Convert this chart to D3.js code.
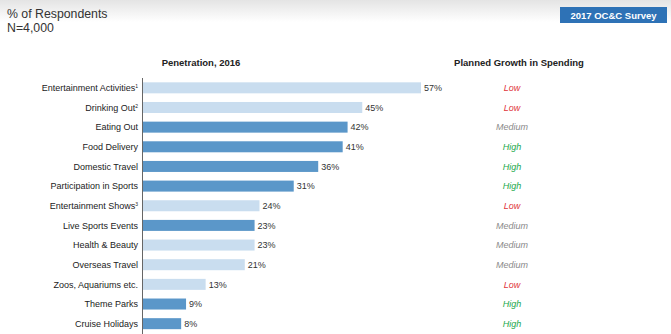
<!DOCTYPE html>
<html>
<head>
<meta charset="utf-8">
<script src="https://cdn.jsdelivr.net/npm/d3@7/dist/d3.min.js"></script>
<style>
  body { margin: 0; background: #fff; }
  svg { display: block; font-family: "Liberation Sans", Arial, sans-serif; }
</style>
</head>
<body>
<div id="vis"></div>
<script>
// Survey data
const categories = ["Entertainment Activities", "Drinking Out", "Eating Out", "Food Delivery",
  "Domestic Travel", "Participation in Sports", "Entertainment Shows", "Live Sports Events",
  "Health & Beauty", "Overseas Travel", "Zoos, Aquariums etc.", "Theme Parks", "Cruise Holidays"];
const footnotes = ["1", "2", "", "", "", "", "3", "", "", "", "", "", ""];
const penetration = [57, 45, 42, 41, 36, 31, 24, 23, 23, 21, 13, 9, 8];
const highlighted = [false, false, true, true, true, true, false, true, false, false, false, true, true];
const growth = ["Low", "Low", "Medium", "High", "High", "High", "Low", "Medium", "Medium", "Medium", "Low", "High", "High"];

const W = 671, H = 334;
const growthColor = { Low: "#e0343c", Medium: "#8a8a8a", High: "#22a84c" };

const svg = d3.select("#vis").append("svg")
  .attr("width", W).attr("height", H);

// soft grey header band
const grad = svg.append("defs").append("linearGradient")
  .attr("id", "hdr").attr("x1", 0).attr("y1", 0).attr("x2", 0).attr("y2", 1);
grad.append("stop").attr("offset", "0%").attr("stop-color", "#e4e4e4");
grad.append("stop").attr("offset", "100%").attr("stop-color", "#ffffff");
svg.append("rect").attr("x", 0).attr("y", 0).attr("width", W).attr("height", 22)
  .attr("fill", "url(#hdr)");

svg.append("text").attr("x", 7).attr("y", 18)
  .attr("font-size", 12.3).attr("fill", "#333").text("% of Respondents");
svg.append("text").attr("x", 7).attr("y", 32)
  .attr("font-size", 12.3).attr("fill", "#333").text("N=4,000");

// badge
svg.append("rect").attr("x", 560).attr("y", 7).attr("width", 107).attr("height", 16)
  .attr("fill", "#2e72b6");
svg.append("text").attr("x", 613.5).attr("y", 18.5).attr("text-anchor", "middle")
  .attr("font-size", 9.5).attr("font-weight", "bold").attr("fill", "#fff")
  .text("2017 OC&C Survey");

const x0 = 142;
const x = d3.scaleLinear().domain([0, 57]).range([x0, 421]);
const y = d3.scaleBand().domain(categories).range([78, 333.5]).paddingInner(0.44).paddingOuter(0.22);

svg.append("text").attr("x", 201).attr("y", 66).attr("text-anchor", "middle")
  .attr("font-size", 9.5).attr("font-weight", "bold").attr("fill", "#222")
  .text("Penetration, 2016");
svg.append("text").attr("x", 519).attr("y", 66).attr("text-anchor", "middle")
  .attr("font-size", 9.5).attr("font-weight", "bold").attr("fill", "#222")
  .text("Planned Growth in Spending");

const rows = categories.map((c, i) => ({
  name: c, note: footnotes[i], value: penetration[i], dark: highlighted[i], growth: growth[i]
}));

svg.selectAll(".bar").data(rows).enter().append("rect")
  .attr("class", "bar")
  .attr("x", x(0))
  .attr("y", d => y(d.name))
  .attr("width", d => x(d.value) - x(0))
  .attr("height", y.bandwidth())
  .attr("fill", d => d.dark ? "#5b97c9" : "#c9ddef");

// category axis
const yAxis = svg.append("g").attr("transform", `translate(${x0},0)`)
  .call(d3.axisLeft(y).tickSize(0).tickPadding(4));
yAxis.select(".domain").attr("d", `M0.5,78V${H}`).attr("stroke", "#666");
yAxis.selectAll(".tick text").remove();
yAxis.selectAll(".tick").append("text")
  .attr("x", -4).attr("dy", "0.35em").attr("text-anchor", "end")
  .attr("font-size", 9).attr("fill", "#222")
  .each(function(d, i) {
    const t = d3.select(this);
    t.append("tspan").text(d);
    if (footnotes[i]) t.append("tspan").attr("font-size", 5).attr("dy", "-0.6em").text(footnotes[i]);
  });

svg.selectAll(".val").data(rows).enter().append("text")
  .attr("class", "val")
  .attr("x", d => x(d.value) + 3)
  .attr("y", d => y(d.name) + y.bandwidth() / 2)
  .attr("dy", "0.35em")
  .attr("font-size", 9).attr("fill", "#333")
  .text(d => d.value + "%");

svg.selectAll(".growth").data(rows).enter().append("text")
  .attr("class", "growth")
  .attr("x", 512)
  .attr("y", d => y(d.name) + y.bandwidth() / 2)
  .attr("dy", "0.35em")
  .attr("text-anchor", "middle")
  .attr("font-size", 9).attr("font-style", "italic")
  .attr("fill", d => growthColor[d.growth])
  .text(d => d.growth);
</script>
</body>
</html>
